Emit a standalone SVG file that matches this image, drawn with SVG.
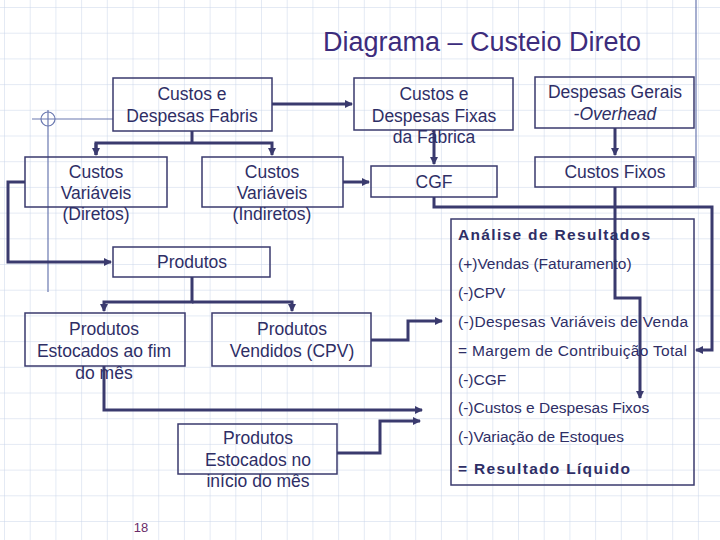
<svg xmlns="http://www.w3.org/2000/svg" width="720" height="540" viewBox="0 0 720 540">
<defs>
<pattern id="grid" width="25.7" height="25.7" patternUnits="userSpaceOnUse" x="5" y="8">
<path d="M25.7 0V25.7M0 25.7H25.7" fill="none" stroke="#c9d5ea" stroke-width="1"/>
</pattern>
<marker id="ar" markerWidth="8" markerHeight="8" refX="7" refY="4" orient="auto" markerUnits="userSpaceOnUse">
<path d="M0 0L8 4L0 8Z" fill="#3a3a6e"/>
</marker>
<style>
.b{fill:none;stroke:#3a3a6e;stroke-width:1.5}
.t{font-family:"Liberation Sans",Arial,sans-serif;font-size:17.5px;fill:#2e2e66;text-anchor:middle}
.a{font-family:"Liberation Sans",Arial,sans-serif;font-size:15.5px;fill:#2e2e66}
.c{fill:none;stroke:#3a3a6e;stroke-width:3}
</style>
</defs>
<rect width="720" height="540" fill="#fff"/>
<rect width="720" height="540" fill="url(#grid)"/>
<g id="deco" stroke="#6a78b0" stroke-width="1.2" fill="none">
<line x1="32" y1="119" x2="113" y2="119"/>
<line x1="48" y1="110" x2="48" y2="292"/>
<circle cx="48" cy="119" r="7"/>
<line x1="696" y1="0" x2="696" y2="187"/>
</g>
<text x="482" y="51" font-family="Liberation Sans,Arial,sans-serif" font-size="27" fill="#3c2c7c" text-anchor="middle">Diagrama – Custeio Direto</text>
<g id="connectors">
<path class="c" d="M272 104H352" marker-end="url(#ar)"/>
<path class="c" d="M192 131V143H96V155M192 143H272V155" marker-end="url(#ar)"/>
<path class="c" d="M96 143V155" marker-end="url(#ar)"/>
<path class="c" d="M25 182H8V262H111" marker-end="url(#ar)"/>
<path class="c" d="M343 182H369" marker-end="url(#ar)"/>
<path class="c" d="M434 130V164" marker-end="url(#ar)"/>
<path class="c" d="M615 128V155" marker-end="url(#ar)"/>
<path class="c" d="M434 197V207H712V350H696" marker-end="url(#ar)"/>
<path class="c" d="M615 187V298H640V398" marker-end="url(#ar)"/>
<path class="c" d="M192 277V302H104V311" marker-end="url(#ar)"/>
<path class="c" d="M192 302H292V311" marker-end="url(#ar)"/>
<path class="c" d="M371 340H408V321H442" marker-end="url(#ar)"/>
<path class="c" d="M104 366V410H422" marker-end="url(#ar)"/>
<path class="c" d="M337 453H380V421H420" marker-end="url(#ar)"/>
</g>
<g id="fabris"><rect class="b" x="113" y="78" width="159" height="53"/><text class="t" x="192" y="100">Custos e</text><text class="t" x="192" y="122">Despesas Fabris</text></g>
<g id="fixas"><rect class="b" x="354" y="78" width="159" height="52"/><text class="t" x="434" y="100">Custos e</text><text class="t" x="434" y="122">Despesas Fixas</text><text class="t" x="434" y="143">da Fábrica</text></g>
<g id="gerais"><rect class="b" x="535" y="77" width="159" height="51"/><text class="t" x="615" y="98">Despesas Gerais</text><text class="t" x="615" y="120">-<tspan font-style="italic">Overhead</tspan></text></g>
<g id="custosfixos"><rect class="b" x="535" y="157" width="159" height="30"/><text class="t" x="615" y="178">Custos Fixos</text></g>
<g id="cgf"><rect class="b" x="371" y="166" width="126" height="31"/><text class="t" x="434" y="188">CGF</text></g>
<g id="diretos"><rect class="b" x="25" y="157" width="142" height="50"/><text class="t" x="96" y="178">Custos</text><text class="t" x="96" y="199">Variáveis</text><text class="t" x="96" y="220">(Diretos)</text></g>
<g id="indiretos"><rect class="b" x="202" y="157" width="141" height="50"/><text class="t" x="272" y="178">Custos</text><text class="t" x="272" y="199">Variáveis</text><text class="t" x="272" y="220">(Indiretos)</text></g>
<g id="produtos"><rect class="b" x="113" y="247" width="157" height="30"/><text class="t" x="192" y="268">Produtos</text></g>
<g id="fim"><rect class="b" x="25" y="313" width="160" height="53"/><text class="t" x="104" y="335">Produtos</text><text class="t" x="104" y="357">Estocados ao fim</text><text class="t" x="104" y="379">do mês</text></g>
<g id="vendidos"><rect class="b" x="212" y="313" width="159" height="53"/><text class="t" x="292" y="335">Produtos</text><text class="t" x="292" y="357">Vendidos (CPV)</text></g>
<g id="inicio"><rect class="b" x="178" y="424" width="159" height="50"/><text class="t" x="258" y="444">Produtos</text><text class="t" x="258" y="466">Estocados no</text><text class="t" x="258" y="487">início do mês</text></g>
<g id="analise"><rect class="b" x="451" y="219" width="243" height="266"/>
<text class="a" x="458" y="240" font-weight="bold" font-size="17.5" textLength="192">Análise de Resultados</text>
<text class="a" x="458" y="269">(+)Vendas (Faturamento)</text>
<text class="a" x="458" y="298">(-)CPV</text>
<text class="a" x="458" y="327" textLength="230">(-)Despesas Variáveis de Venda</text>
<text class="a" x="458" y="356" textLength="229">= Margem de Contribuição Total</text>
<text class="a" x="458" y="385">(-)CGF</text>
<text class="a" x="458" y="413">(-)Custos e Despesas Fixos</text>
<text class="a" x="458" y="442">(-)Variação de Estoques</text>
<text class="a" x="458" y="474" font-weight="bold" font-size="17.5" textLength="172">= Resultado Líquido</text>
</g>
<text x="141" y="532" font-family="Liberation Sans,Arial,sans-serif" font-size="13" fill="#6a2c6a" text-anchor="middle">18</text>
</svg>
